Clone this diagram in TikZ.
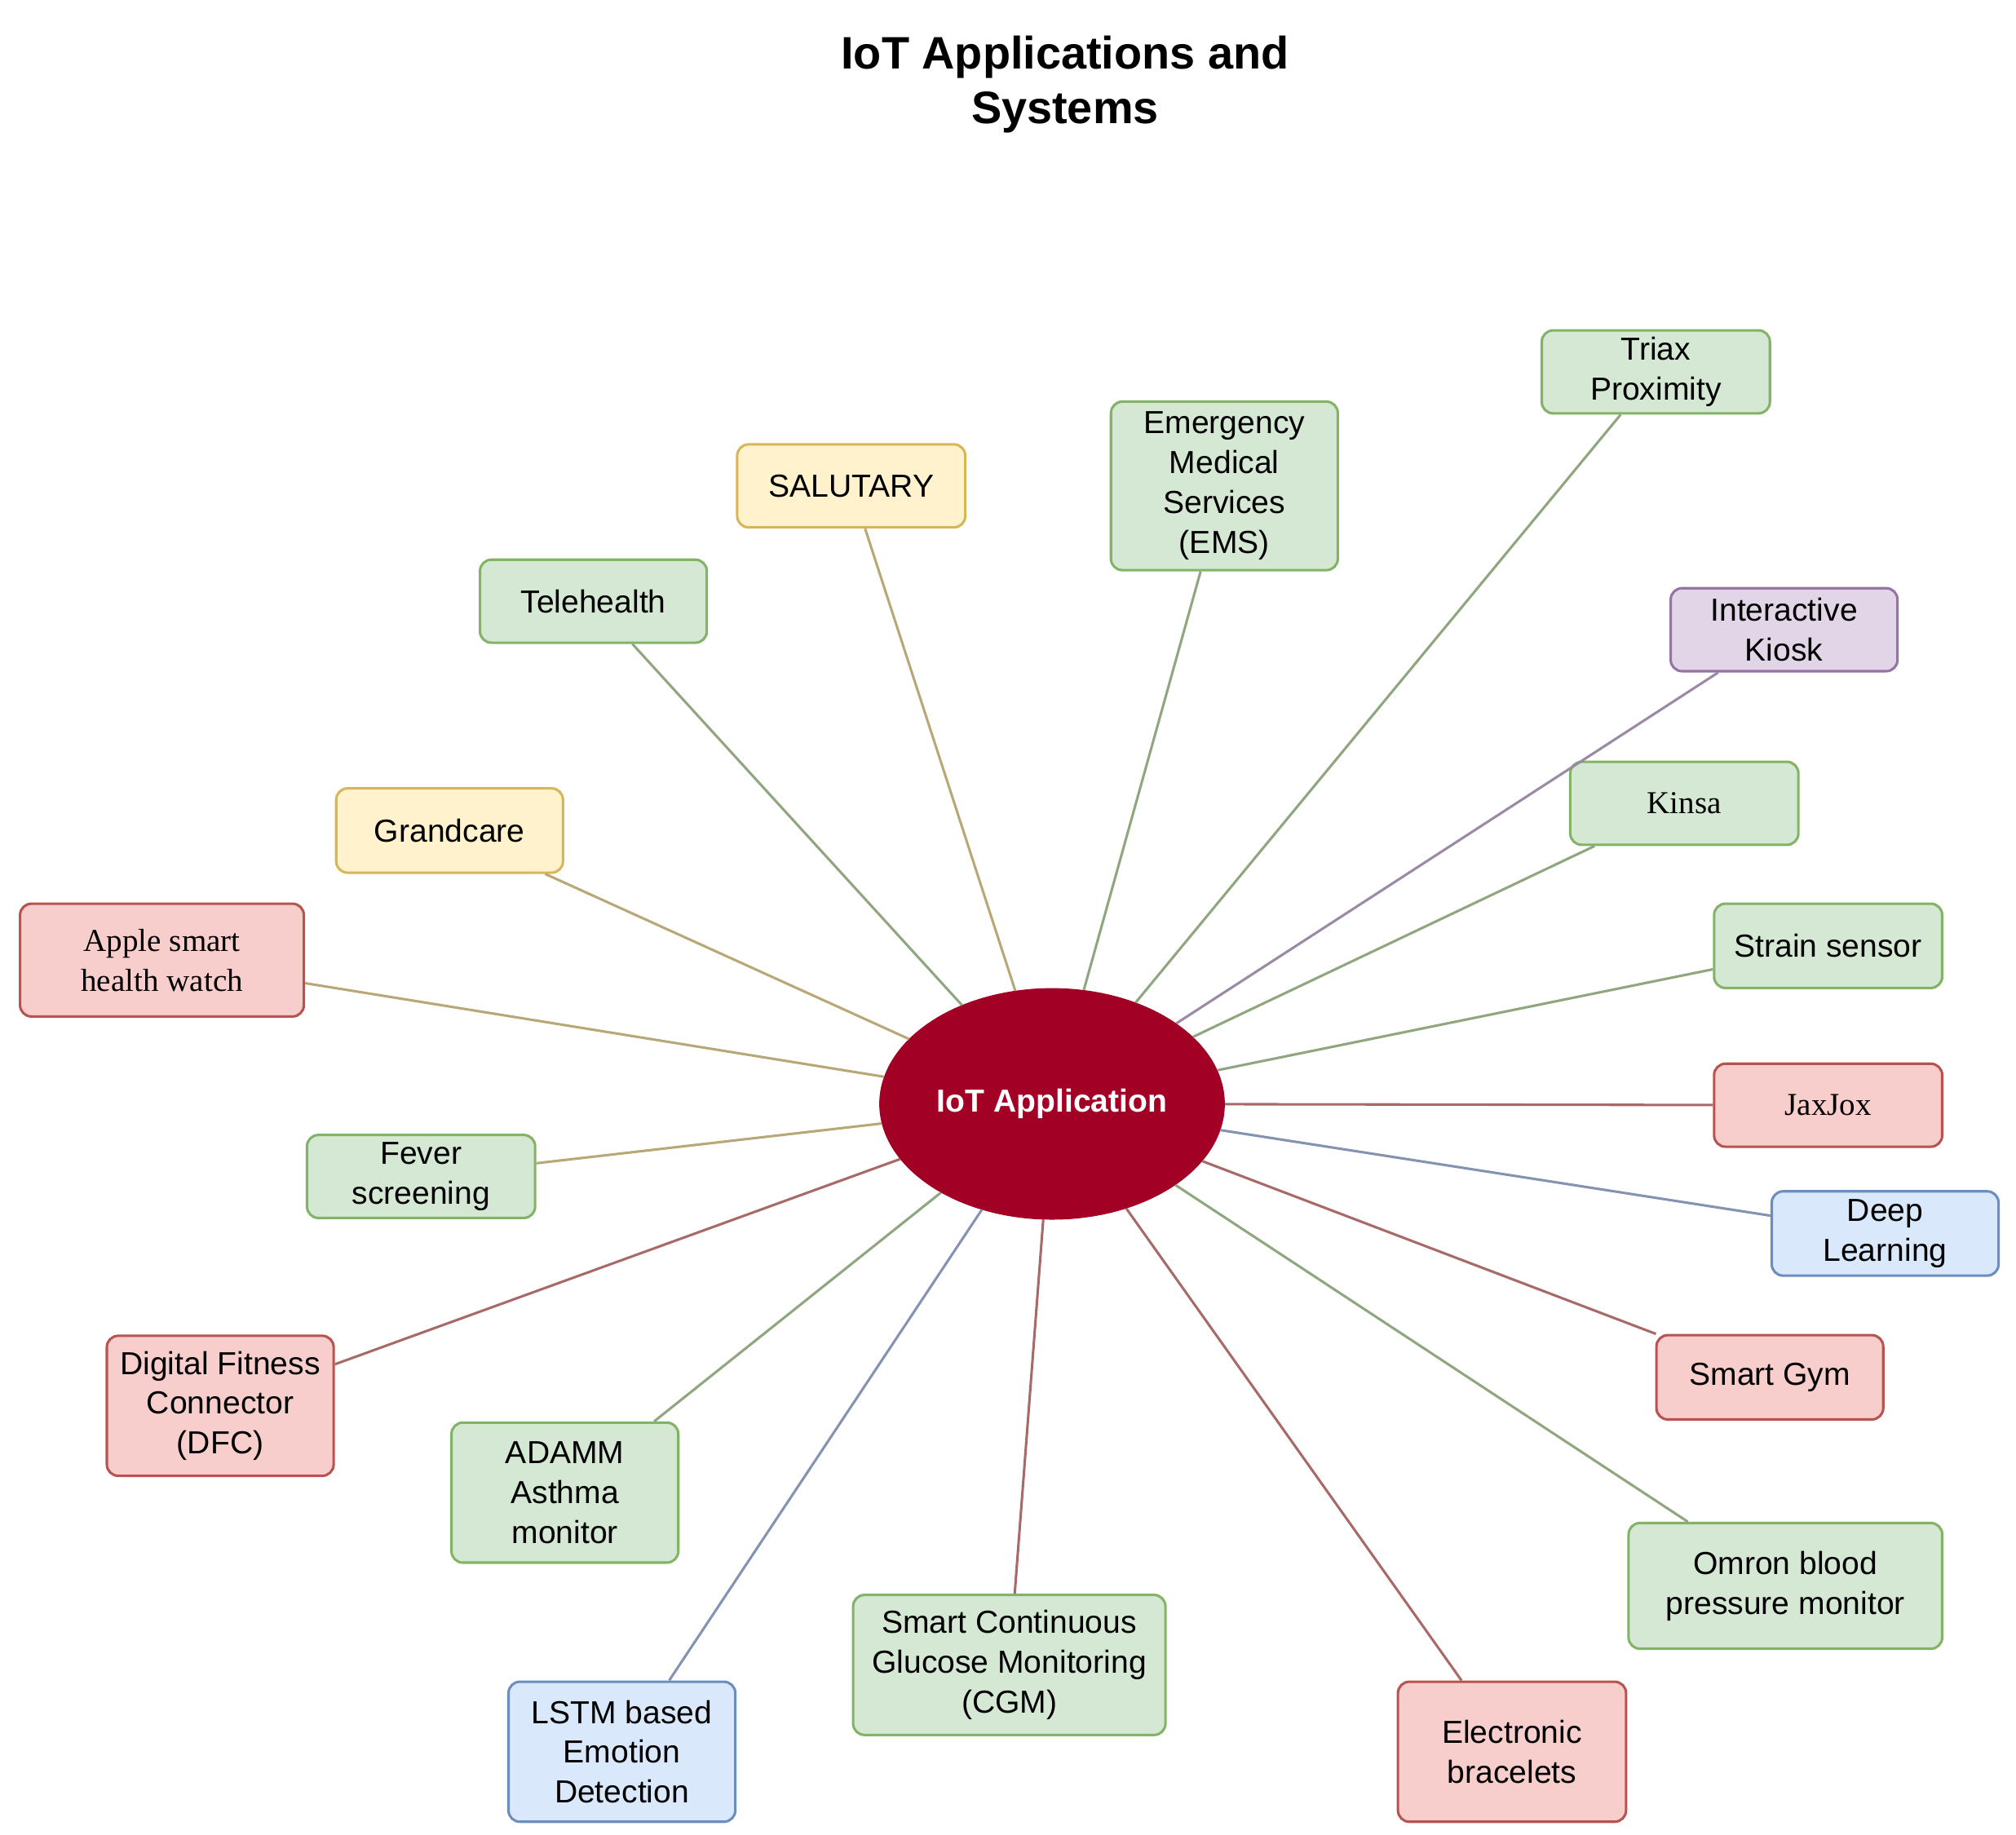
\documentclass[tikz,border=0pt]{standalone}
\usepackage{fontspec}
\usetikzlibrary{shapes.geometric}
\setmainfont{Liberation Sans}
\newfontfamily\serifb{Liberation Serif}
\definecolor{gF}{HTML}{D5E8D4}\definecolor{gS}{HTML}{82B366}
\definecolor{yF}{HTML}{FFF2CC}\definecolor{yS}{HTML}{D6B656}
\definecolor{rF}{HTML}{F8CECC}\definecolor{rS}{HTML}{B85450}
\definecolor{bF}{HTML}{DAE8FC}\definecolor{bS}{HTML}{6C8EBF}
\definecolor{pF}{HTML}{E1D5E7}\definecolor{pS}{HTML}{9673A6}
\definecolor{tan}{HTML}{B8A878}\definecolor{gl}{HTML}{8FA67E}
\definecolor{rl}{HTML}{A86A68}\definecolor{bl}{HTML}{8494B0}\definecolor{pl}{HTML}{9A8AA6}
\definecolor{core}{HTML}{A20025}
\begin{document}
\begin{tikzpicture}[x=0.02cm,y=-0.02cm,
 box/.style={draw, rounded corners=5pt, line width=1.1pt, align=center, inner sep=0pt,
   font=\fontsize{14}{17.5}\selectfont},
 gb/.style={box,fill=gF,draw=gS}, yb/.style={box,fill=yF,draw=yS},
 rb/.style={box,fill=rF,draw=rS}, bb/.style={box,fill=bF,draw=bS}, pb/.style={box,fill=pF,draw=pS},
 ln/.style={line width=1.1pt}]
\useasboundingbox (0,0) rectangle (1556,1416);
\newcommand{\bx}[7]{\node[#1, minimum width=#4*0.02cm-1.1pt, minimum height=#5*0.02cm-1.1pt] (#6) at (#2,#3) {#7};}
\node[font=\fontsize{20}{24}\selectfont\bfseries, align=center] (title) at (822,65) {IoT Applications and\\Systems};
\node[ellipse, fill=core, draw=core, minimum width=266*0.02cm, minimum height=178*0.02cm, inner sep=0pt,
 text=white, font=\fontsize{14}{17}\selectfont\bfseries] (c) at (812,852) {IoT Application};
\bx{gb}{1278}{287}{178}{66}{triax}{Triax\\Proximity}
\bx{gb}{945}{375}{177}{132}{ems}{Emergency\\Medical\\Services\\(EMS)}
\bx{yb}{657}{375}{178}{66}{sal}{SALUTARY}
\bx{gb}{458}{464}{177}{66}{tele}{Telehealth}
\bx{pb}{1377}{486}{177}{66}{kiosk}{Interactive\\Kiosk}
\bx{gb}{1300}{620}{178}{66}{kinsa}{\serifb Kinsa}
\bx{yb}{347}{641}{177}{67}{grand}{Grandcare}
\bx{rb}{125}{741}{221}{89}{apple}{\serifb Apple smart\\\serifb health watch}
\bx{gb}{1411}{730}{178}{67}{strain}{Strain sensor}
\bx{rb}{1411}{853}{178}{66}{jax}{\serifb JaxJox}
\bx{gb}{325}{908}{178}{66}{fever}{Fever\\screening}
\bx{bb}{1455}{952}{177}{67}{deep}{Deep\\Learning}
\bx{rb}{170}{1085}{177}{110}{dfc}{Digital Fitness\\Connector\\(DFC)}
\bx{rb}{1366}{1063}{177}{67}{gym}{Smart Gym}
\bx{gb}{436}{1152}{177}{110}{adamm}{ADAMM\\Asthma\\monitor}
\bx{gb}{1378}{1224}{244}{99}{omron}{Omron blood\\pressure monitor}
\bx{gb}{779}{1285}{243}{110}{cgm}{Smart Continuous\\Glucose Monitoring\\(CGM)}
\bx{bb}{480}{1352}{177}{110}{lstm}{LSTM based\\Emotion\\Detection}
\bx{rb}{1167}{1352}{178}{110}{brace}{Electronic\\bracelets}
\draw[ln,gl] (triax) -- (c);
\draw[ln,gl] (ems) -- (c);
\draw[ln,tan] (sal) -- (c);
\draw[ln,gl] (tele) -- (c);
\draw[ln,pl] (kiosk) -- (c);
\draw[ln,gl] (kinsa) -- (c);
\draw[ln,tan] (grand) -- (c);
\draw[ln,tan] (apple) -- (c);
\draw[ln,gl] (strain) -- (c);
\draw[ln,rl] (jax) -- (c);
\draw[ln,tan] (fever) -- (c);
\draw[ln,bl] (deep) -- (c);
\draw[ln,rl] (dfc) -- (c);
\draw[ln,rl] (gym) -- (c);
\draw[ln,gl] (adamm) -- (c);
\draw[ln,gl] (omron) -- (c);
\draw[ln,rl] (cgm) -- (c);
\draw[ln,bl] (lstm) -- (c);
\draw[ln,rl] (brace) -- (c);
\end{tikzpicture}
\end{document}
